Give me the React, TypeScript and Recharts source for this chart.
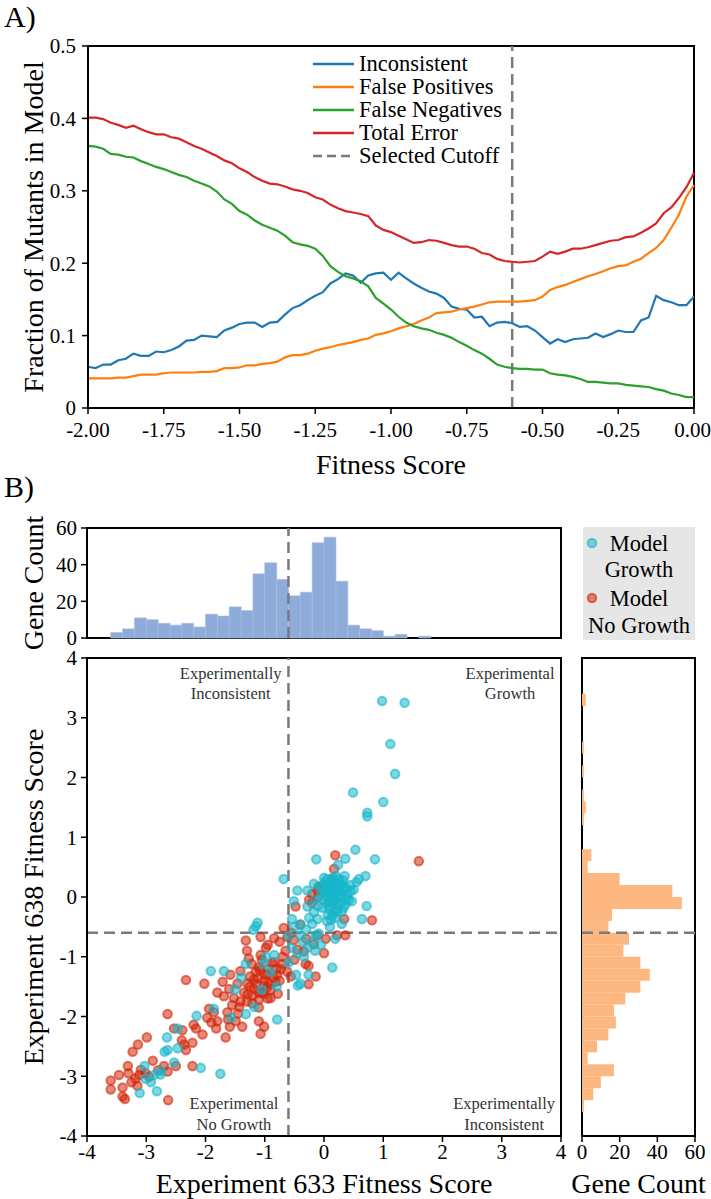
import {
  LineChart,
  Line,
  XAxis,
  YAxis,
  ReferenceLine,
  ReferenceArea,
  ReferenceDot,
  Legend,
  ComposedChart,
  Bar,
  ScatterChart,
  Scatter,
} from "recharts";

const FONT = '"Liberation Serif", "Times New Roman", serif';

// ---- panel A: error fractions vs fitness cutoff ----
const FITNESS_CUTOFFS = [
  -2.0, -1.975, -1.95, -1.925, -1.9, -1.875, -1.85, -1.825, -1.8, -1.775, -1.75, -1.725, -1.7,
  -1.675, -1.65, -1.625, -1.6, -1.575, -1.55, -1.525, -1.5, -1.475, -1.45, -1.425, -1.4, -1.375,
  -1.35, -1.325, -1.3, -1.275, -1.25, -1.225, -1.2, -1.175, -1.15, -1.125, -1.1, -1.075, -1.05,
  -1.025, -1.0, -0.975, -0.95, -0.925, -0.9, -0.875, -0.85, -0.825, -0.8, -0.775, -0.75, -0.725,
  -0.7, -0.675, -0.65, -0.625, -0.6, -0.575, -0.55, -0.525, -0.5, -0.475, -0.45, -0.425, -0.4,
  -0.375, -0.35, -0.325, -0.3, -0.275, -0.25, -0.225, -0.2, -0.175, -0.15, -0.125, -0.1, -0.075,
  -0.05, -0.025, 0.0,
];
const INCONSISTENT = [
  0.057, 0.055, 0.06, 0.06, 0.066, 0.068, 0.075, 0.072, 0.072, 0.078, 0.077, 0.08, 0.085, 0.093,
  0.094, 0.1, 0.099, 0.098, 0.107, 0.111, 0.116, 0.118, 0.118, 0.112, 0.118, 0.119, 0.129, 0.138,
  0.142, 0.149, 0.155, 0.16, 0.172, 0.178, 0.186, 0.183, 0.173, 0.183, 0.186, 0.187, 0.177, 0.187,
  0.179, 0.172, 0.166, 0.161, 0.158, 0.152, 0.14, 0.137, 0.136, 0.125, 0.126, 0.113, 0.118, 0.119,
  0.117, 0.112, 0.113, 0.107, 0.098, 0.089, 0.095, 0.091, 0.095, 0.096, 0.097, 0.103, 0.098,
  0.102, 0.107, 0.105, 0.105, 0.121, 0.125, 0.155, 0.149, 0.146, 0.142, 0.142, 0.154,
];
const FALSE_POSITIVES = [
  0.041, 0.041, 0.041, 0.041, 0.042, 0.042, 0.044, 0.046, 0.046, 0.046, 0.048, 0.049, 0.049,
  0.049, 0.049, 0.05, 0.05, 0.051, 0.055, 0.055, 0.056, 0.059, 0.059, 0.061, 0.062, 0.064, 0.07,
  0.073, 0.073, 0.075, 0.079, 0.082, 0.084, 0.087, 0.089, 0.091, 0.094, 0.096, 0.101, 0.103,
  0.106, 0.11, 0.113, 0.116, 0.121, 0.125, 0.131, 0.132, 0.133, 0.136, 0.138, 0.14, 0.143, 0.146,
  0.147, 0.147, 0.147, 0.147, 0.148, 0.149, 0.154, 0.163, 0.167, 0.17, 0.174, 0.178, 0.182,
  0.185, 0.189, 0.193, 0.196, 0.197, 0.202, 0.206, 0.214, 0.221, 0.232, 0.249, 0.267, 0.292,
  0.308,
];
const FALSE_NEGATIVES = [
  0.362, 0.361, 0.358, 0.351, 0.35, 0.347, 0.346, 0.341, 0.337, 0.333, 0.33, 0.326, 0.322, 0.319,
  0.314, 0.31, 0.306, 0.299, 0.288, 0.282, 0.272, 0.267, 0.259, 0.253, 0.249, 0.245, 0.238, 0.229,
  0.226, 0.224, 0.22, 0.21, 0.196, 0.188, 0.182, 0.179, 0.175, 0.168, 0.152, 0.144, 0.136, 0.126,
  0.118, 0.113, 0.11, 0.108, 0.104, 0.101, 0.097, 0.091, 0.086, 0.08, 0.075, 0.068, 0.06, 0.057,
  0.055, 0.054, 0.054, 0.053, 0.053, 0.048, 0.046, 0.045, 0.043, 0.04, 0.036, 0.036, 0.035, 0.034,
  0.034, 0.032, 0.031, 0.03, 0.029, 0.026, 0.024, 0.02, 0.018, 0.015, 0.015,
];
const TOTAL_ERROR = [
  0.401, 0.401, 0.399, 0.394, 0.391, 0.387, 0.39, 0.385, 0.381, 0.378, 0.378, 0.374, 0.372, 0.367,
  0.362, 0.358, 0.353, 0.348, 0.342, 0.338, 0.331, 0.326, 0.319, 0.314, 0.31, 0.309, 0.306, 0.302,
  0.3, 0.297, 0.291, 0.288, 0.281, 0.276, 0.272, 0.27, 0.268, 0.265, 0.252, 0.246, 0.243, 0.238,
  0.233, 0.228, 0.229, 0.232, 0.231, 0.228, 0.225, 0.223, 0.223, 0.22, 0.214, 0.212, 0.206, 0.203,
  0.202, 0.201, 0.202, 0.203, 0.209, 0.216, 0.213, 0.216, 0.22, 0.22, 0.222, 0.225, 0.228, 0.231,
  0.232, 0.236, 0.237, 0.242, 0.248, 0.255, 0.269, 0.277, 0.29, 0.305, 0.325,
];
const SELECTED_CUTOFF = -0.6;
const A_X_TICKS = [-2, -1.75, -1.5, -1.25, -1, -0.75, -0.5, -0.25, 0];
const A_Y_TICKS = [0, 0.1, 0.2, 0.3, 0.4, 0.5];

const SERIES = [
  { key: "inconsistent", name: "Inconsistent", color: "#1f77b4" },
  { key: "falsePos", name: "False Positives", color: "#ff7f0e" },
  { key: "falseNeg", name: "False Negatives", color: "#2ca02c" },
  { key: "total", name: "Total Error", color: "#d62728" },
];

// ---- panel B: histograms (0.2 wide bins, by bin centre) ----
const HIST_BINS = [
  -3.9, -3.7, -3.5, -3.3, -3.1, -2.9, -2.7, -2.5, -2.3, -2.1, -1.9, -1.7, -1.5, -1.3, -1.1, -0.9,
  -0.7, -0.5, -0.3, -0.1, 0.1, 0.3, 0.5, 0.7, 0.9, 1.1, 1.3, 1.5, 1.7, 1.9, 2.1, 2.3, 2.5, 2.7,
  2.9, 3.1, 3.3, 3.5, 3.7, 3.9,
];
const EXP633_COUNTS = [
  0, 0, 3, 5, 11, 10, 8, 7, 8, 6, 13, 12, 17, 15, 35, 41, 32, 23, 25, 52, 55, 31, 7, 5, 4, 1, 2,
  0, 1, 0, 0, 0, 0, 0, 0, 0, 0, 0, 0, 0,
];
const EXP638_COUNTS = [
  0, 0, 1, 6, 10, 17, 3, 8, 14, 18, 17, 23, 31, 36, 31, 22, 25, 14, 16, 53, 48, 20, 3, 5, 0, 0,
  1, 2, 1, 0, 1, 0, 1, 0, 0, 0, 2, 0, 0, 0,
];

// ---- panel B: scatter, [exp633, exp638] ----
const MODEL_GROWTH = [
  [0.98, 3.28], [1.36, 3.25], [1.12, 2.56], [1.2, 2.06], [0.49, 1.75], [1.0, 1.59], [0.73, 1.41],
  [0.73, 1.35], [0.53, 0.79], [-0.13, 0.63], [0.36, 0.64], [0.86, 0.63], [0.24, 0.54],
  [-0.68, 0.3], [0.7, 0.35], [0.59, 0.3], [0.45, 0.2], [0.36, 0.17], [-0.45, 0.11], [-0.28, 0.11],
  [-0.17, 0.22], [0.47, -0.07], [0.72, -0.15], [0.36, -0.13], [-0.51, -0.07], [-0.28, -0.16],
  [0.64, -0.37], [-0.11, -0.37], [-0.4, -0.46], [-0.54, -0.37], [-1.15, -0.49], [-1.12, -0.43],
  [-1.19, -0.55], [-0.4, -0.64], [-0.14, -0.64], [0.19, -0.7], [0.14, -1.18], [-0.34, -1.0],
  [-0.28, -0.85], [-0.47, -1.3], [-0.44, -1.48], [-0.26, -1.3], [-1.02, -1.12], [-0.98, -1.0],
  [-0.84, -0.97], [-1.91, -1.24], [-1.69, -1.24], [-1.32, -1.12], [-1.18, -1.84], [-1.32, -1.96],
  [-1.57, -2.02], [-0.79, -2.05], [-1.86, -1.87], [-2.15, -1.99], [-2.65, -2.35], [-2.47, -2.2],
  [-2.47, -2.53], [-2.64, -2.56], [-2.69, -2.59], [-2.53, -2.77], [-2.08, -2.86], [-1.75, -2.96],
  [-2.76, -2.97], [-2.87, -2.98], [-2.92, -3.1], [-3.01, -3.04], [-3.11, -3.28], [-2.82, -3.25],
  [-2.75, -2.91], [-3.03, -2.83], [0.22, -0.25], [0.14, -0.31], [0.05, -0.4], [-0.09, -0.61],
  [-0.2, -0.76], [-0.17, -0.25], [0.0, 0.1], [0.05, 0.2], [0.1, 0.0], [0.15, 0.15], [0.2, -0.05],
  [0.1, -0.15], [0.05, -0.1], [0.2, 0.25], [0.25, 0.1], [0.3, 0.0], [0.12, 0.3], [0.0, -0.05],
  [-0.05, 0.05], [0.08, 0.08], [0.18, 0.05], [0.22, -0.2], [0.3, 0.2], [0.35, 0.12], [0.4, 0.05],
  [0.28, -0.1], [0.15, -0.25], [0.02, 0.25], [-0.08, 0.18], [0.12, 0.18], [0.25, 0.3],
  [0.33, -0.18], [0.06, -0.3], [0.18, -0.35], [0.0, 0.32], [-0.1, -0.15], [0.42, -0.05],
  [0.5, 0.12], [0.1, 0.22], [0.2, 0.12], [0.04, 0.0], [0.16, -0.1], [0.26, 0.02], [-0.02, 0.15],
  [0.32, 0.28], [0.08, -0.2], [-0.3, -0.55], [-0.2, -0.45], [0.1, -0.5], [-0.05, -0.8],
  [-0.35, -0.75], [-0.15, -0.9], [-0.55, -0.85], [-0.6, -1.1], [-0.4, -1.45], [-0.9, -1.25],
  [-1.05, -1.55], [-1.5, -1.55], [-1.4, -1.35], [-0.8, -1.5], [0.05, 0.3], [0.15, 0.32],
  [0.22, 0.18], [0.28, 0.08], [0.12, 0.05], [0.02, 0.12], [0.17, -0.02], [0.24, -0.12],
  [0.09, -0.08], [-0.03, -0.18], [0.3, -0.25], [0.38, -0.02], [0.45, 0.1], [0.55, 0.25],
  [0.12, -0.38], [0.2, 0.35], [0.07, 0.15], [0.35, 0.35], [-0.15, -0.05], [0.26, 0.22],
  [-0.5, -0.5], [-0.25, -0.35], [-0.6, -0.65], [0.3, -0.45], [-0.45, -0.95],
];
const MODEL_NO_GROWTH = [
  [0.19, 0.7], [1.6, 0.6], [0.17, 0.47], [-0.09, 0.17], [-0.11, 0.11], [0.05, 0.08],
  [-0.2, -0.1], [-0.48, -0.16], [-0.4, -0.46], [0.34, -0.37], [0.81, -0.39], [0.22, -0.64],
  [0.36, -0.64], [0.03, -0.7], [-0.11, -0.64], [-0.17, -0.79], [-0.68, -0.52], [-0.62, -0.67],
  [-0.51, -0.72], [-0.84, -0.69], [-1.07, -0.67], [-1.32, -0.73], [-0.98, -0.85], [-1.07, -0.97],
  [-1.27, -1.03], [-1.1, -1.18], [-0.84, -1.09], [-0.73, -1.21], [-0.45, -0.88], [-0.34, -0.91],
  [0.0, -0.94], [-0.31, -1.12], [-0.26, -1.15], [-0.14, -1.33], [-0.26, -1.46], [-0.56, -1.33],
  [-1.41, -1.24], [-1.25, -1.33], [-1.12, -1.36], [-0.96, -1.3], [-0.82, -1.42], [-1.01, -1.48],
  [-1.18, -1.54], [-1.29, -1.63], [-1.04, -1.6], [-0.9, -1.69], [-1.1, -1.72], [-1.21, -1.78],
  [-0.96, -1.51], [-0.79, -1.3], [-0.7, -1.12], [-1.29, -1.45], [-1.46, -1.45], [-2.33, -1.39],
  [-2.02, -1.45], [-1.71, -1.42], [-1.6, -1.54], [-1.8, -1.6], [-1.69, -1.66], [-1.52, -1.69],
  [-1.55, -1.81], [-1.43, -1.84], [-1.41, -1.75], [-1.94, -1.87], [-1.86, -1.93], [-1.97, -2.02],
  [-1.8, -2.08], [-1.63, -1.93], [-1.49, -2.08], [-1.38, -2.17], [-1.59, -2.17], [-1.82, -2.2],
  [-1.66, -2.35], [-1.1, -2.08], [-1.01, -2.17], [-1.07, -2.29], [-2.64, -1.96], [-2.53, -2.2],
  [-2.39, -2.23], [-2.2, -2.14], [-2.16, -2.2], [-2.22, -2.44], [-2.36, -2.47], [-2.33, -2.56],
  [-2.99, -2.35], [-3.14, -2.47], [-3.23, -2.59], [-3.31, -2.83], [-2.89, -2.74], [-2.7, -2.83],
  [-2.5, -2.83], [-2.64, -2.92], [-2.22, -2.83], [-3.09, -2.89], [-3.01, -2.95], [-2.95, -3.01],
  [-3.18, -3.04], [-3.46, -2.98], [-3.6, -3.07], [-3.6, -3.22], [-3.4, -3.19], [-3.4, -3.34],
  [-3.36, -3.38], [-3.15, -3.16], [-2.63, -3.4], [-3.12, -2.98], [-0.95, -1.2], [-0.85, -1.35],
  [-1.0, -1.4], [-0.9, -1.55], [-1.15, -1.25], [-1.05, -1.05], [-0.75, -1.4], [-0.8, -1.2],
  [-1.2, -1.65], [-1.1, -1.85], [-0.7, -1.0], [-0.65, -0.9], [-1.15, -1.45], [-1.25, -1.5],
  [-0.95, -1.7], [-1.3, -1.75], [-1.1, -1.6], [-0.1, 0.0], [-0.2, 0.05], [0.12, 0.27],
  [0.0, 0.2], [-0.25, -0.05], [-1.0, -1.3], [-0.92, -1.45], [-1.08, -1.22], [-0.88, -1.1],
  [-1.18, -1.38], [-1.02, -1.62], [-0.78, -1.62], [-0.62, -1.25], [-1.35, -1.6], [-1.45, -1.95],
  [-1.62, -2.05], [-1.9, -2.1], [-2.05, -2.3], [-2.4, -2.4], [-2.8, -2.9], [-3.25, -3.1],
  [-3.3, -2.95], [-0.55, -0.6], [-0.75, -0.75], [-0.3, -0.7], [-1.3, -0.9], [-0.5, -1.05],
  [-0.95, -0.8], [-1.22, -1.12], [-1.58, -1.3],
];
const SCATTER_TICKS = [-4, -3, -2, -1, 0, 1, 2, 3, 4];
const COUNT_TICKS = [0, 20, 40, 60];

const GROWTH_COLOR = "#17b6ca";
const NO_GROWTH_COLOR = "#d2280c";
const DASH_COLOR = "#7a7a7a";

const axisLine = { stroke: "#000", strokeWidth: 2 };
const tickLine = { stroke: "#000", strokeWidth: 1.5 };
const tickStyle = { fill: "#000", fontSize: 21, fontFamily: FONT };

const yTitle = (text: string, cx: number) => (props: any) => {
  const vb = props.viewBox || { y: 0, height: 0 };
  const cy = vb.y + vb.height / 2;
  return (
    <text
      x={cx}
      y={cy}
      transform={`rotate(-90 ${cx} ${cy})`}
      textAnchor="middle"
      dominantBaseline="central"
      fontSize={28}
      fontFamily={FONT}
      fill="#000"
    >
      {text}
    </text>
  );
};

const note = (lines: string[]) => (props: any) => {
  const vb = props.viewBox || { x: 0, y: 0 };
  const cx = vb.x + (vb.width || 0) / 2;
  const cy = vb.y + (vb.height || 0) / 2;
  return (
    <text x={cx} y={cy} textAnchor="middle" fontSize={16.5} fontFamily={FONT} fill="#333">
      {lines.map((l, i) => (
        <tspan key={l} x={cx} dy={i === 0 ? 6 : 20.5}>
          {l}
        </tspan>
      ))}
    </text>
  );
};

function ErrorLegend() {
  const items = [
    ...SERIES.map((s) => ({ name: s.name, color: s.color, dashed: false })),
    { name: "Selected Cutoff", color: DASH_COLOR, dashed: true },
  ];
  return (
    <div style={{ fontFamily: FONT, fontSize: 22.5 }}>
      {items.map((it) => (
        <div key={it.name} style={{ display: "flex", alignItems: "center", height: 23 }}>
          <svg width={48} height={23}>
            <line
              x1={2}
              x2={43}
              y1={12}
              y2={12}
              stroke={it.color}
              strokeWidth={2.5}
              strokeDasharray={it.dashed ? "9 5" : undefined}
            />
          </svg>
          <span style={{ lineHeight: "23px", color: "#000" }}>{it.name}</span>
        </div>
      ))}
    </div>
  );
}

const dot = (color: string) => (props: any) => (
  <circle
    cx={props.cx}
    cy={props.cy}
    r={4.3}
    fill={color}
    fillOpacity={0.55}
    stroke={color}
    strokeOpacity={0.6}
    strokeWidth={2}
  />
);

export default function App() {
  const lineData = FITNESS_CUTOFFS.map((x, i) => ({
    x,
    inconsistent: INCONSISTENT[i],
    falsePos: FALSE_POSITIVES[i],
    falseNeg: FALSE_NEGATIVES[i],
    total: TOTAL_ERROR[i],
  }));
  const topHist = HIST_BINS.map((bin, i) => ({ bin, count: EXP633_COUNTS[i] }));
  const sideHist = HIST_BINS.map((bin, i) => ({ bin, count: EXP638_COUNTS[i] }));
  const growth = MODEL_GROWTH.map(([x, y]) => ({ x, y }));
  const noGrowth = MODEL_NO_GROWTH.map(([x, y]) => ({ x, y }));

  return (
    <div
      style={{
        position: "absolute",
        left: 0,
        top: 0,
        width: 711,
        height: 1199,
        overflow: "hidden",
        background: "#fff",
        fontFamily: FONT,
      }}
    >
      <div style={{ position: "absolute", left: 4, top: 0, fontSize: 30 }}>A)</div>
      <div style={{ position: "absolute", left: 4, top: 470, fontSize: 30 }}>B)</div>

      {/* A */}
      <div style={{ position: "absolute", left: 0, top: 0 }}>
        <LineChart width={711} height={480} data={lineData} margin={{ top: 46, right: 17, left: 0, bottom: 0 }}>
          <XAxis
            dataKey="x"
            type="number"
            domain={[-2, 0]}
            ticks={A_X_TICKS}
            tickFormatter={(v: number) => v.toFixed(2)}
            height={72}
            tick={tickStyle}
            tickSize={6}
            tickMargin={8}
            axisLine={axisLine}
            tickLine={tickLine}
            label={{ value: "Fitness Score", position: "insideBottom", offset: 6, fontSize: 28, fill: "#000" }}
          />
          <YAxis
            type="number"
            domain={[0, 0.5]}
            ticks={A_Y_TICKS}
            tickFormatter={(v: number) => (v === 0 ? "0" : v.toFixed(1))}
            width={88}
            tick={tickStyle}
            tickSize={6}
            tickMargin={6}
            axisLine={axisLine}
            tickLine={tickLine}
            label={{ content: yTitle("Fraction of Mutants in Model", 33) }}
          />
          <ReferenceArea x1={-2} x2={0} y1={0} y2={0.5} fill="none" fillOpacity={0} stroke="#000" strokeWidth={2} />
          <ReferenceLine x={SELECTED_CUTOFF} stroke={DASH_COLOR} strokeWidth={2.5} strokeDasharray="11 6" />
          {SERIES.map((s) => (
            <Line
              key={s.key}
              type="linear"
              dataKey={s.key}
              name={s.name}
              stroke={s.color}
              strokeWidth={2.2}
              dot={false}
              isAnimationActive={false}
            />
          ))}
          <Legend
            layout="vertical"
            align="center"
            verticalAlign="middle"
            wrapperStyle={{ left: 311, top: 52, width: 210 }}
            content={() => <ErrorLegend />}
          />
        </LineChart>
      </div>

      {/* B top histogram */}
      <div style={{ position: "absolute", left: 0, top: 500 }}>
        <ComposedChart
          width={711}
          height={170}
          data={topHist}
          barCategoryGap={0}
          barGap={0}
          margin={{ top: 28, right: 150, left: 0, bottom: 32 }}
        >
          <XAxis dataKey="bin" type="number" domain={[-4, 4]} hide />
          <YAxis
            type="number"
            domain={[0, 60]}
            ticks={COUNT_TICKS}
            width={87}
            tick={tickStyle}
            tickSize={6}
            tickMargin={4}
            axisLine={axisLine}
            tickLine={tickLine}
            label={{ content: yTitle("Gene Count", 33) }}
          />
          <Bar dataKey="count" fill="#8eabd9" stroke="#a9bfe3" strokeWidth={0.6} isAnimationActive={false} />
          <ReferenceLine x={SELECTED_CUTOFF} stroke={DASH_COLOR} strokeWidth={2.5} strokeDasharray="11 6" />
          <ReferenceArea x1={-4} x2={4} y1={0} y2={60} fill="none" fillOpacity={0} stroke="#000" strokeWidth={2} />
        </ComposedChart>
      </div>

      {/* B scatter legend */}
      <div style={{ position: "absolute", left: 583, top: 527, width: 112, height: 113, background: "#e6e6e6" }}>
        <svg width={112} height={113}>
          <circle cx={9} cy={16} r={4.3} fill={GROWTH_COLOR} fillOpacity={0.55} stroke={GROWTH_COLOR} strokeOpacity={0.6} strokeWidth={2} />
          <circle cx={9} cy={71} r={4.3} fill={NO_GROWTH_COLOR} fillOpacity={0.55} stroke={NO_GROWTH_COLOR} strokeOpacity={0.6} strokeWidth={2} />
          <g fontFamily={FONT} fontSize={22.5} fill="#000" textAnchor="middle">
            <text x={56} y={24}>Model</text>
            <text x={56} y={50}>Growth</text>
            <text x={56} y={79}>Model</text>
            <text x={56} y={106}>No Growth</text>
          </g>
        </svg>
      </div>

      {/* B scatter */}
      <div style={{ position: "absolute", left: 0, top: 640 }}>
        <ScatterChart width={574} height={559} margin={{ top: 18, right: 13, left: 0, bottom: 0 }}>
          <XAxis
            dataKey="x"
            type="number"
            domain={[-4, 4]}
            ticks={SCATTER_TICKS}
            height={63}
            tick={tickStyle}
            tickSize={6}
            tickMargin={2}
            axisLine={axisLine}
            tickLine={tickLine}
            label={{ value: "Experiment 633 Fitness Score", position: "insideBottom", offset: 6, fontSize: 28, fill: "#000" }}
          />
          <YAxis
            dataKey="y"
            type="number"
            domain={[-4, 4]}
            ticks={SCATTER_TICKS}
            width={87}
            tick={tickStyle}
            tickSize={6}
            tickMargin={4}
            axisLine={axisLine}
            tickLine={tickLine}
            label={{ content: yTitle("Experiment 638 Fitness Score", 33) }}
          />
          <ReferenceArea x1={-4} x2={4} y1={-4} y2={4} fill="none" fillOpacity={0} stroke="#000" strokeWidth={2} />
          <ReferenceLine x={SELECTED_CUTOFF} stroke={DASH_COLOR} strokeWidth={2.5} strokeDasharray="11 6" />
          <ReferenceLine y={SELECTED_CUTOFF} stroke={DASH_COLOR} strokeWidth={2.5} strokeDasharray="11 6" />
          <ReferenceDot x={-1.575} y={3.75} r={0} fill="none" stroke="none" label={{ content: note(["Experimentally", "Inconsistent"]) }} />
          <ReferenceDot x={3.14} y={3.75} r={0} fill="none" stroke="none" label={{ content: note(["Experimental", "Growth"]) }} />
          <ReferenceDot x={-1.52} y={-3.45} r={0} fill="none" stroke="none" label={{ content: note(["Experimental", "No Growth"]) }} />
          <ReferenceDot x={3.04} y={-3.45} r={0} fill="none" stroke="none" label={{ content: note(["Experimentally", "Inconsistent"]) }} />
          <Scatter name="Model No Growth" data={noGrowth} shape={dot(NO_GROWTH_COLOR)} isAnimationActive={false} />
          <Scatter name="Model Growth" data={growth} shape={dot(GROWTH_COLOR)} isAnimationActive={false} />
        </ScatterChart>
      </div>

      {/* B side histogram */}
      <div style={{ position: "absolute", left: 570, top: 640 }}>
        <ComposedChart
          layout="vertical"
          width={141}
          height={559}
          data={sideHist}
          barCategoryGap={0}
          barGap={0}
          margin={{ top: 18, right: 16, left: 12, bottom: 0 }}
        >
          <YAxis dataKey="bin" type="number" domain={[-4, 4]} reversed hide />
          <XAxis
            type="number"
            domain={[0, 60]}
            ticks={COUNT_TICKS}
            height={63}
            tick={tickStyle}
            tickSize={6}
            tickMargin={2}
            axisLine={axisLine}
            tickLine={tickLine}
            label={{ value: "Gene Count", position: "insideBottom", offset: 6, fontSize: 28, fill: "#000" }}
          />
          <Bar dataKey="count" fill="#fdb882" isAnimationActive={false} />
          <ReferenceLine y={SELECTED_CUTOFF} stroke={DASH_COLOR} strokeWidth={2.5} strokeDasharray="11 6" />
          <ReferenceArea x1={0} x2={60} y1={-4} y2={4} fill="none" fillOpacity={0} stroke="#000" strokeWidth={2} />
        </ComposedChart>
      </div>
    </div>
  );
}
